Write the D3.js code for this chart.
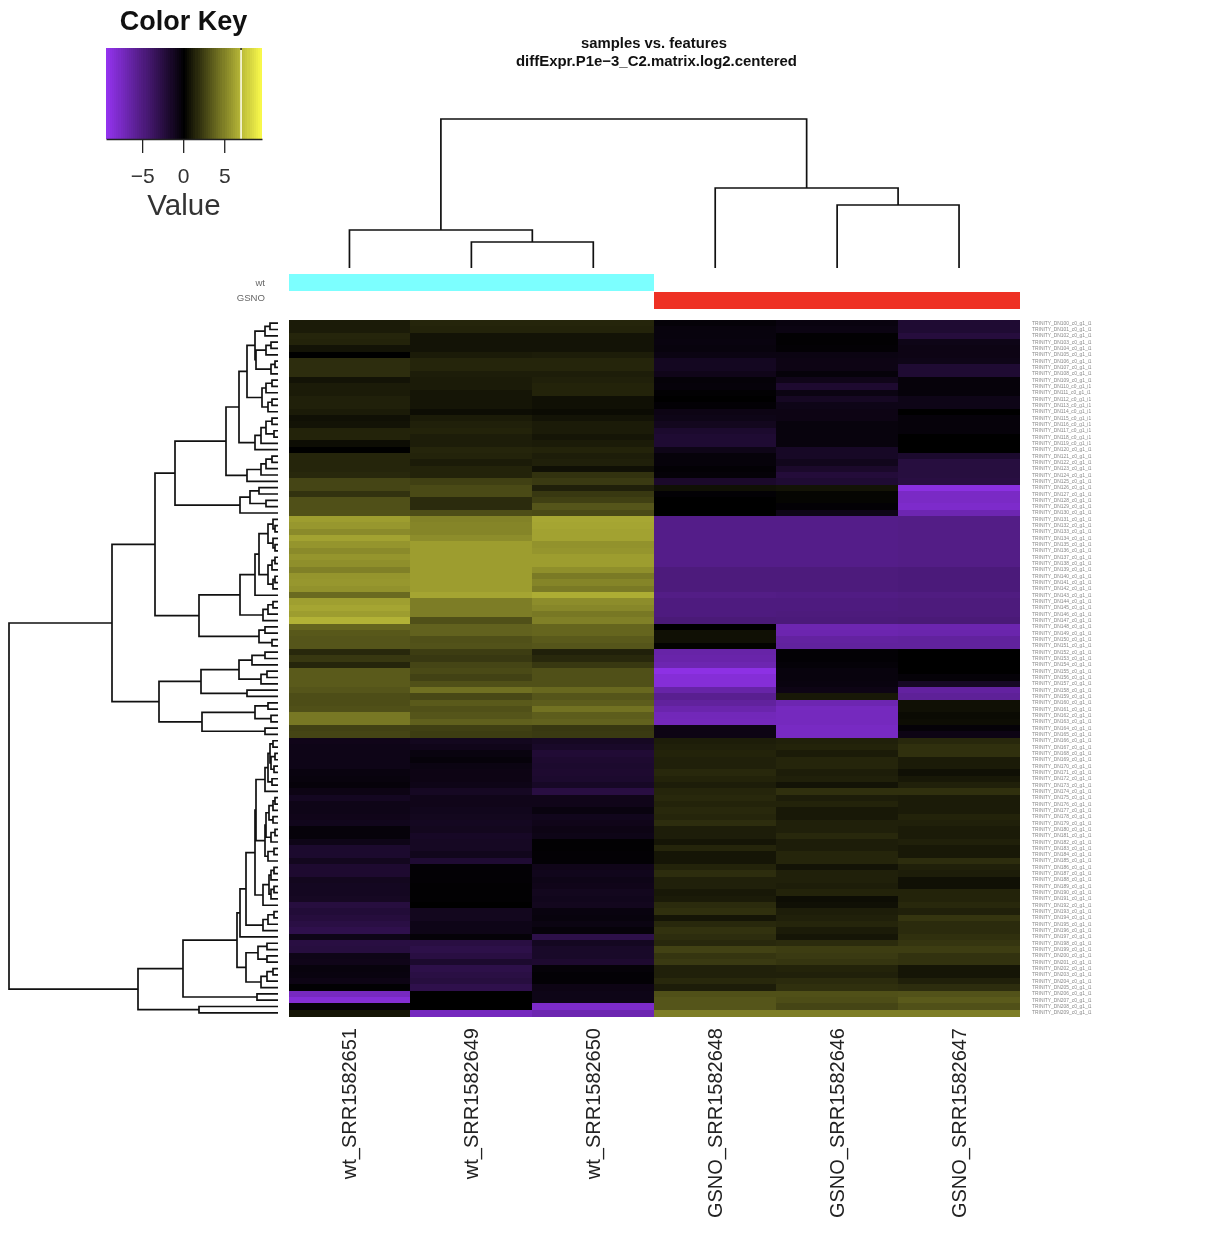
<!DOCTYPE html>
<html><head><meta charset="utf-8">
<script src="https://cdn.jsdelivr.net/npm/d3@7"></script>
<style>html,body{margin:0;padding:0;background:#fff}svg{display:block;filter:blur(0.55px)}text{font-family:"Liberation Sans",Arial,sans-serif}</style>
</head><body><svg id="c" width="1214" height="1240"></svg>
<script>
const sampleLabels=["wt_SRR1582651","wt_SRR1582649","wt_SRR1582650","GSNO_SRR1582648","GSNO_SRR1582646","GSNO_SRR1582647"];
const groupLabels=["wt","GSNO"];
const keyTicks=[-5,0,5];
const wt651=[1.0,1.0,1.4,1.3,0.7,0.0,1.7,1.7,1.7,0.7,1.0,1.0,1.2,1.2,1.0,0.6,0.7,1.3,1.3,0.5,0.0,1.4,1.4,1.4,1.5,2.6,2.6,1.9,3.0,3.0,3.0,
 5.9,5.7,5.2,6.1,5.6,5.2,5.6,5.4,4.8,5.6,5.7,5.5,4.0,6.0,6.2,5.9,6.7,3.8,3.3,3.2,3.2,1.5,2.1,1.4,3.4,3.4,3.4,3.2,2.9,2.9,3.0,4.5,4.5,2.5,2.6,
 -1.0,-0.9,-0.9,-0.9,-0.9,-0.6,-0.5,-0.4,-0.8,-1.3,-0.9,-0.9,-1.0,-1.1,-0.4,-0.4,-0.9,-1.8,-1.8,-1.2,-1.9,-1.9,-1.2,-1.3,-1.3,-1.4,-2.5,-2.2,-2.4,-2.7,-3.0,-0.9,-2.6,-2.5,-0.9,-1.0,-0.5,-0.6,-0.8,-0.1,-7.6,-8.5,-0.3,0.8];
const wt649=[1.4,1.3,0.7,0.7,0.7,1.0,1.4,1.4,1.1,1.0,1.0,0.8,0.8,0.8,0.5,1.0,1.2,1.3,1.1,1.1,1.4,1.3,1.0,1.3,1.3,2.4,2.8,2.8,1.6,1.6,2.9,
 4.9,5.0,5.0,5.3,5.9,5.9,5.9,5.9,5.9,5.9,5.9,5.9,6.2,4.7,4.7,4.7,3.0,3.7,3.7,3.0,3.1,2.3,2.1,2.6,2.8,2.5,3.0,4.2,2.7,3.4,3.0,3.2,3.6,2.4,2.3,
 -1.2,-1.0,-0.6,-0.4,-0.7,-0.8,-0.8,-0.9,-1.4,-1.0,-1.0,-1.1,-1.2,-1.3,-1.2,-1.5,-1.4,-1.4,-1.1,-2.0,-0.2,-0.2,-0.2,-0.1,-0.1,-0.1,0.0,-1.2,-1.2,-0.9,-0.9,-0.3,-2.6,-2.9,-2.6,-1.8,-2.9,-2.7,-2.5,-3.0,0.0,0.0,0.0,-7.5];
const wt650=[1.4,1.3,0.7,0.7,0.7,1.1,1.4,1.4,1.1,1.2,1.3,1.3,0.6,0.6,0.4,0.7,1.0,1.0,0.8,1.0,1.3,1.1,1.2,0.6,1.9,2.2,1.2,2.1,2.4,3.2,2.8,
 6.3,6.2,6.1,6.1,5.5,5.6,5.9,5.9,5.4,4.6,5.0,4.6,6.5,5.3,5.1,4.5,4.8,3.8,3.8,3.4,3.2,1.2,1.5,2.1,3.0,3.0,3.0,3.9,3.2,3.5,4.3,3.5,3.7,2.1,2.2,
 -1.4,-1.6,-2.1,-1.9,-1.8,-1.9,-1.8,-1.5,-2.6,-1.0,-1.0,-0.6,-1.1,-1.0,-0.8,-0.9,-0.1,-0.1,-0.2,-0.2,-1.0,-1.1,-0.9,-1.0,-1.2,-1.1,-1.2,-0.6,-0.5,-0.7,-0.4,-2.9,-1.3,-1.6,-1.6,-1.9,-0.3,-0.2,-0.2,-0.8,-0.9,-0.9,-8.0,-7.0];
const gsno648=[-0.3,-0.5,-0.5,-0.6,-0.5,-0.7,-1.3,-1.3,-1.0,-0.3,-0.4,-0.1,0.0,-0.2,-0.8,-0.9,-1.2,-1.8,-2.0,-2.0,-0.9,-0.4,-0.4,-0.2,-0.3,-1.7,0.6,-0.2,0.0,0.0,0.0,
 -5.4,-5.4,-5.4,-5.4,-5.4,-5.4,-5.4,-5.4,-4.9,-4.9,-4.9,-4.9,-5.3,-5.0,-5.0,-5.0,-4.7,0.0,0.6,0.6,0.1,-6.6,-6.7,-7.0,-9.0,-8.5,-8.5,-6.6,-5.7,-6.2,-6.8,-7.3,-7.4,-0.8,-0.8,
 1.1,1.2,1.3,1.2,1.2,1.5,1.3,1.1,1.4,1.5,1.3,1.5,1.4,1.7,1.1,1.1,0.8,1.4,0.8,0.8,1.3,1.7,1.2,1.2,0.9,1.0,1.6,1.8,0.8,1.5,1.9,1.7,1.5,2.5,2.0,2.2,1.2,1.2,1.5,1.1,3.0,3.2,3.2,4.7];
const gsno646=[-0.6,-0.7,-0.1,-0.1,-0.2,-0.7,-0.8,-0.8,-0.4,-1.0,-1.9,-0.7,-1.4,-0.9,-0.8,-0.8,-0.5,-0.5,-0.5,-0.5,-1.5,-1.5,-1.1,-1.7,-2.3,-2.0,0.7,0.2,0.2,-0.2,-0.9,
 -5.4,-5.4,-5.4,-5.4,-5.4,-5.4,-5.4,-5.4,-4.9,-4.9,-4.9,-4.9,-5.2,-5.0,-5.0,-4.9,-4.8,-7.0,-6.9,-6.3,-6.2,-0.2,-0.2,-0.3,-0.5,-0.5,-0.6,-0.8,0.9,-7.0,-7.5,-7.5,-7.5,-7.7,-7.7,
 1.2,1.3,1.0,1.4,1.4,1.1,1.2,0.7,1.8,1.1,1.3,0.9,0.9,1.2,1.2,1.5,1.1,1.1,1.4,1.4,0.7,1.2,1.2,1.1,1.3,0.5,0.6,1.1,1.2,1.4,1.0,0.8,1.6,2.3,2.2,2.0,1.3,1.2,1.6,1.8,3.0,2.9,2.6,4.7];
const gsno647=[-2.0,-2.0,-2.4,-0.9,-0.8,-0.8,-0.9,-2.0,-2.0,-0.4,-0.4,-0.4,-0.9,-0.9,0.0,-0.4,-0.4,-0.4,0.0,0.0,0.0,-1.8,-2.5,-2.5,-2.5,-2.6,-8.9,-7.8,-7.8,-8.0,-7.0,
 -5.3,-5.3,-5.3,-5.3,-5.3,-5.3,-5.3,-5.3,-4.8,-4.8,-4.8,-4.8,-5.1,-4.9,-4.9,-4.9,-4.7,-6.9,-6.8,-6.2,-6.2,0.0,0.0,0.0,0.0,-0.3,-1.5,-6.3,-6.0,0.6,0.6,0.4,0.5,-0.3,-0.8,
 1.5,1.8,1.8,1.0,1.0,0.6,0.9,1.2,1.8,1.0,1.0,1.0,1.3,1.2,1.0,1.0,1.2,0.9,0.9,1.7,1.2,1.1,0.6,0.6,1.3,1.3,1.5,1.2,2.0,1.6,1.6,1.8,2.0,2.3,1.9,1.9,0.8,0.8,1.2,1.7,3.1,3.4,3.0,4.7];
const columns=[wt651,wt649,wt650,gsno648,gsno646,gsno647];
const sampleGroups=[0,0,0,1,1,1];
const keyPeak=7.05;

// Dendrograms: [merge height, left child, right child]; integers are leaves.
const a111=[23,[13,[8,0,1],2],[22,[12,[7,3,4],5],[7,[3,6,7],8]]];
const a112=[16,[12,[6,9,10],11],[10,[6,12,13],14]];
const a12=[23,[17,[12,[6,15,16],[4,17,18]],19],20];
const a2=[31,[17,[12,[6,21,22],23],24],25];
const a1=[39,[31,a111,a112],a12];
const b1=[38,[28,[19,26,27],[12,28,29]],30];
const f1=[23,[19,[10,[5,31,[3,32,33]],[5,34,[3,35,36]]],[10,[6,[3,37,38],39],[5,[3,40,41],42]]],43];
const f2=[15,[10,[5,44,45],46],47];
const g1=[19,[13,48,49],[6,50,51]];
const upper=[123,[103,[52,a1,a2],b1],[79,[38,f1,f2],g1]];
const i1=[77,[39,[26,[13,52,53],54],[17,[11,55,56],57]],[31,58,59]];
const j1=[76,[23,[10,60,61],[7,62,63]],[13,64,65]];
const u1=[13,[10,[8,[5,66,67],[7,[3,68,69],[4,70,71]]],[6,72,73]],74];
const x3=[9,[5,[3,75,76],77],[5,78,79]];
const x5=[7,[3,80,81],82];
const x2=[13,[12,x3,x5],[10,[4,83,84],85]];
const w1=[15,[9,[7,[4,86,87],88],[7,[4,89,90],91]],92];
const t1=[15,[10,[4,93,94],95],96];
const m1=[38,[32,[23,[22,u1,x2],w1],t1],97];
const n1=[32,[20,[11,98,99],[11,100,101]],[17,[11,[5,102,103],104],105]];
const lower=[140,[95,[41,m1,n1],[21,106,107]],[79,108,109]];
const rowTree=[269,[166,upper,[119,i1,j1]],lower];
const colTree=[149,[38,0,[26,1,2]],[80,3,[63,4,5]]];

const rowIds=d3.range(wt651.length);
const svg=d3.select("#c");
const color=d3.scaleLinear().domain([-9.4,0,9.6]).range(["#9333EE","#000000","#FFFF4D"]);
const X=d3.scaleBand().domain(d3.range(6)).range([288.5,1020]);
const Y=d3.scaleBand().domain(rowIds).range([320,1016]);

// heat map
const cells=columns.flatMap((c,ci)=>c.map((v,ri)=>({v,ci,ri})));
svg.append("g").attr("shape-rendering","crispEdges").selectAll("rect").data(cells).join("rect")
 .attr("x",d=>X(d.ci)).attr("y",d=>Y(d.ri)).attr("width",X.bandwidth()).attr("height",Y.bandwidth()+0.6)
 .attr("fill",d=>color(d.v));

// side colours
const sideY=d3.scaleBand().domain([0,1]).range([274,309.5]);
const sideColor=d3.scaleOrdinal([0,1],["#7CFFFF","#EE3124"]);
svg.append("g").attr("shape-rendering","crispEdges").selectAll("rect").data(sampleGroups).join("rect")
 .attr("x",(d,i)=>X(i)).attr("width",X.bandwidth()).attr("y",d=>sideY(d)).attr("height",sideY.bandwidth()-0.5)
 .attr("fill",d=>sideColor(d));
svg.append("g").selectAll("text").data(groupLabels).join("text")
 .attr("x",265).attr("y",(d,i)=>sideY(i)+sideY.bandwidth()/2+(i?0.5:3.5)).attr("text-anchor","end")
 .attr("font-size",9.6).attr("fill","#666").text(d=>d);

// dendrograms
function layout(node,pos){
  if(typeof node==="number") return {p:pos(node),h:0,segs:[]};
  const l=layout(node[1],pos),r=layout(node[2],pos);
  return {p:(l.p+r.p)/2,h:node[0],segs:l.segs.concat(r.segs,[{h:node[0],a:l,b:r}])};
}
const rowH=d3.scaleLinear().domain([0,269]).range([278,9]);
const colH=d3.scaleLinear().domain([0,149]).range([268,119]);
const rowLay=layout(rowTree,i=>Y(i)+Y.bandwidth()/2);
const colLay=layout(colTree,i=>X(i)+X.bandwidth()/2);
const pathR=d3.path();
rowLay.segs.forEach(s=>{pathR.moveTo(rowH(s.a.h),s.a.p);pathR.lineTo(rowH(s.h),s.a.p);pathR.lineTo(rowH(s.h),s.b.p);pathR.lineTo(rowH(s.b.h),s.b.p);});
const pathC=d3.path();
colLay.segs.forEach(s=>{pathC.moveTo(s.a.p,colH(s.a.h));pathC.lineTo(s.a.p,colH(s.h));pathC.lineTo(s.b.p,colH(s.h));pathC.lineTo(s.b.p,colH(s.b.h));});
svg.append("path").attr("d",pathR.toString()).attr("fill","none").attr("stroke","#111").attr("stroke-width",1.7);
svg.append("path").attr("d",pathC.toString()).attr("fill","none").attr("stroke","#111").attr("stroke-width",1.7);

// sample labels
svg.append("g").selectAll("text").data(sampleLabels).join("text")
 .attr("transform",(d,i)=>`translate(${X(i)+X.bandwidth()/2+7},1028) rotate(-90)`)
 .attr("text-anchor","end").attr("font-size",20).attr("fill","#222").text(d=>d);

// row labels
svg.append("g").selectAll("text").data(rowIds).join("text")
 .attr("x",1032).attr("y",i=>Y(i)+Y.bandwidth()/2+1.5).attr("font-size",4.9).attr("fill","#888")
 .text(i=>`TRINITY_DN${100+i}_c0_g1_i1`);

// titles
svg.append("text").attr("x",654).attr("y",47.5).attr("text-anchor","middle").attr("font-size",14.6).attr("font-weight","bold").attr("fill","#111").attr("textLength",146).attr("lengthAdjust","spacingAndGlyphs").text("samples vs. features");
svg.append("text").attr("x",656.5).attr("y",65.5).attr("text-anchor","middle").attr("font-size",14.6).attr("font-weight","bold").attr("fill","#111").attr("textLength",281).attr("lengthAdjust","spacingAndGlyphs").text("diffExpr.P1e\u22123_C2.matrix.log2.centered");

// colour key
const K=d3.scaleLinear().domain([-9.4,9.6]).range([106,262]);
const keyVals=d3.range(-9.4,9.6-0.01,19/75);
svg.append("g").attr("shape-rendering","crispEdges").selectAll("rect").data(keyVals).join("rect")
 .attr("x",d=>K(d)).attr("y",48).attr("height",91).attr("width",K(19/75-9.4)-K(-9.4)).attr("fill",d=>color(d));
svg.append("line").attr("x1",K(keyPeak)).attr("x2",K(keyPeak)).attr("y1",50).attr("y2",139).attr("stroke","#fbfbe8").attr("stroke-width",1.6);
svg.append("line").attr("x1",K(keyPeak)).attr("x2",K(keyPeak)).attr("y1",48).attr("y2",50).attr("stroke","#333").attr("stroke-width",1.6);
const ax=svg.append("g").attr("transform","translate(0,139)").call(d3.axisBottom(K).tickValues(keyTicks).tickSize(14).tickSizeOuter(0).tickFormat(d3.format("d")));
ax.select(".domain").attr("stroke","#222").attr("stroke-width",1.3);
ax.selectAll(".tick line").attr("stroke","#222").attr("stroke-width",1.3);
ax.selectAll(".tick text").attr("font-size",21).attr("fill","#333").attr("font-family","Liberation Sans").attr("y",29.5).attr("dy","0.71em");
svg.append("text").attr("x",184).attr("y",215).attr("text-anchor","middle").attr("font-size",29.5).attr("fill","#333").text("Value");
svg.append("text").attr("x",183.5).attr("y",30).attr("text-anchor","middle").attr("font-size",27).attr("font-weight","bold").attr("fill","#111").text("Color Key");
</script></body></html>
